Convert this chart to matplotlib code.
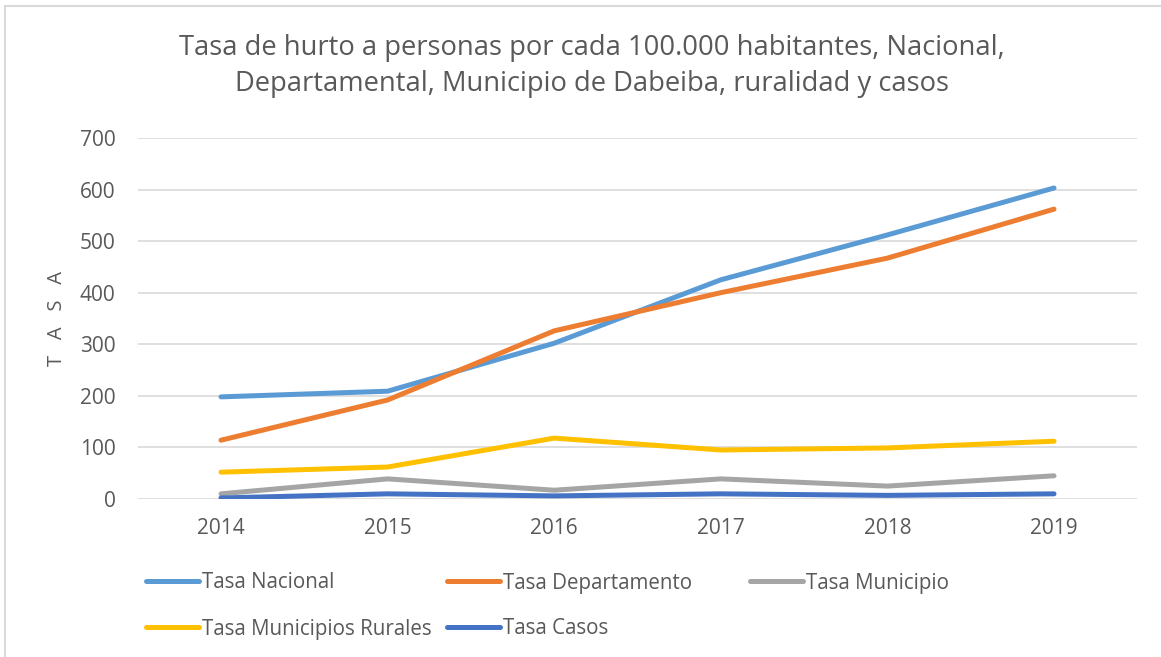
import matplotlib.pyplot as plt
from matplotlib.patches import Rectangle

plt.rcParams['font.family'] = ['Open Sans', 'DejaVu Sans']

years = ["2014", "2015", "2016", "2017", "2018", "2019"]
tasa_nacional = [198, 209, 302, 425, 512, 603]
tasa_departamento = [114, 192, 326, 400, 467, 562]
tasa_municipio = [10, 39, 17, 39, 25, 45]
tasa_rurales = [52, 62, 118, 95, 99, 112]
tasa_casos = [2, 10, 6, 10, 7, 10]

series = [
    ("Tasa Nacional", tasa_nacional, "#5B9BD5"),
    ("Tasa Departamento", tasa_departamento, "#ED7D31"),
    ("Tasa Municipio", tasa_municipio, "#A5A5A5"),
    ("Tasa Municipios Rurales", tasa_rurales, "#FFC000"),
    ("Tasa Casos", tasa_casos, "#4472C4"),
]

fig = plt.figure(figsize=(11.61, 6.57), dpi=100)
ax = fig.add_axes([0.1186, 0.2405, 0.861, 0.5495])

text_color = "#595959"
x = list(range(len(years)))
lines = []
for label, vals, color in series:
    ln, = ax.plot(x, vals, color=color, linewidth=3.6, solid_capstyle="round",
                  solid_joinstyle="round", label=label, zorder=3)
    lines.append(ln)

ax.set_xlim(-0.5, len(years) - 0.5)
ax.set_ylim(0, 700)
ax.set_yticks(range(0, 701, 100))
ax.set_xticks(x)
ax.set_xticklabels(years)
ax.yaxis.grid(True, color="#D9D9D9", linewidth=1.2)
ax.set_axisbelow(True)
for s in ax.spines.values():
    s.set_visible(False)
ax.tick_params(axis="both", length=0, labelsize=15, labelcolor=text_color)
ax.tick_params(axis="y", pad=16)
ax.tick_params(axis="x", pad=14)

fig.text(57 / 1161, 1 - 318 / 657, "T   A   S   A", rotation=90, ha="center", va="center",
         fontsize=14.5, color=text_color)

fig.text(592 / 1161, 1 - 66 / 657,
         "Tasa de hurto a personas por cada 100.000 habitantes, Nacional,\n"
         "Departamental, Municipio de Dabeiba, ruralidad y casos",
         ha="center", va="center", fontsize=19.7, color=text_color, linespacing=1.35)

# legend entries laid out row-wise like the original
legend_pos = [(146, 583), (447, 583), (750, 583), (146, 629), (447, 629)]
for ln, (px, py) in zip(lines, legend_pos):
    fig.legend([ln], [ln.get_label()], loc="center left",
               bbox_to_anchor=(px / 1161, 1 - py / 657), frameon=False,
               handlelength=2.6, handletextpad=0.12, borderpad=0, borderaxespad=0,
               fontsize=14.8, labelcolor=text_color)

fig.patches.append(Rectangle((5 / 1161, -0.1), 1.2, 0.1 + 651 / 657, transform=fig.transFigure,
                             fill=False, edgecolor="#D9D9D9", linewidth=1.5))

fig.savefig("out.png", dpi=100)
